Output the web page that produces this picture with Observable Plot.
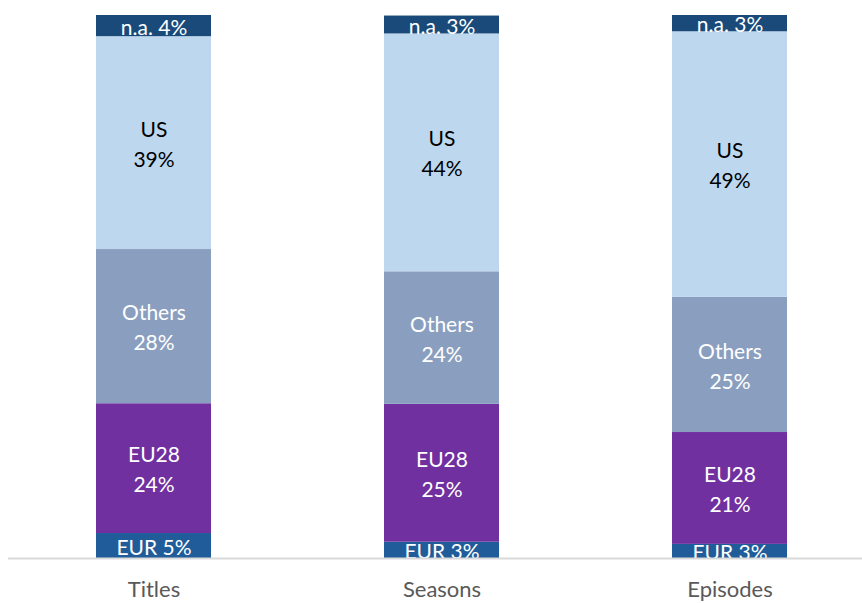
<!DOCTYPE html>
<html>
<head>
<meta charset="utf-8">
<script src="https://cdn.jsdelivr.net/npm/d3@7"></script>
<script src="https://cdn.jsdelivr.net/npm/@observablehq/plot@0.6"></script>
<style>
  html, body { margin: 0; padding: 0; background: #fff; }
  #chart { width: 862px; height: 603px; }
</style>
</head>
<body>
<div id="chart"></div>
<script>
const categories = ["Titles", "Seasons", "Episodes"];
const series = ["EUR", "EU28", "Others", "US", "n.a."];
const values = {
  "EUR":    [4.6, 3.0, 2.6],
  "EU28":   [23.9, 25.4, 20.6],
  "Others": [28.4, 24.4, 24.9],
  "US":     [39.2, 43.8, 48.9],
  "n.a.":   [3.9, 3.3, 3.0]
};
const colors = ["#1f5c99", "#7030a0", "#8a9fc0", "#bdd7ee", "#1a4a7a"];
const textColors = ["#ffffff", "#ffffff", "#ffffff", "#000000", "#ffffff"];
const twoLine = ["EU28", "Others", "US"];

const data = [];
series.forEach((s) => {
  categories.forEach((c, j) => {
    const v = values[s][j];
    const pct = Math.round(v) + "%";
    data.push({
      category: c,
      series: s,
      value: v,
      label: twoLine.includes(s) ? s + "\n" + pct : s + " " + pct
    });
  });
});

const textColor = new Map(series.map((s, i) => [s, textColors[i]]));

const chart = Plot.plot({
  width: 862,
  height: 603,
  marginTop: 15,
  marginBottom: 45,
  marginLeft: 8,
  marginRight: 0,
  style: { fontFamily: "Lato, 'Open Sans', sans-serif", background: "#fff" },
  x: { domain: categories, range: [95, 788], paddingInner: 0.6, paddingOuter: 0, label: null },
  y: { domain: [0, 100], axis: null },
  color: { domain: series, range: colors },
  marks: [
    Plot.barY(data, Plot.stackY({
      x: "category", y: "value", z: "series", order: series,
      fill: "series"
    })),
    Plot.text(data, Plot.stackY({
      x: "category", y: "value", z: "series", order: series,
      text: "label",
      fill: (d) => textColor.get(d.series),
      fontSize: 21,
      lineHeight: 1.43,
      dy: -1,
      clip: true
    })),
    Plot.ruleY([0], { stroke: "#d9d9d9", strokeWidth: 2 }),
    Plot.axisX({
      tickSize: 0,
      tickPadding: 23,
      fontSize: 22,
      fill: "#595959",
      label: null
    })
  ]
});
document.getElementById("chart").appendChild(chart);
</script>
</body>
</html>
